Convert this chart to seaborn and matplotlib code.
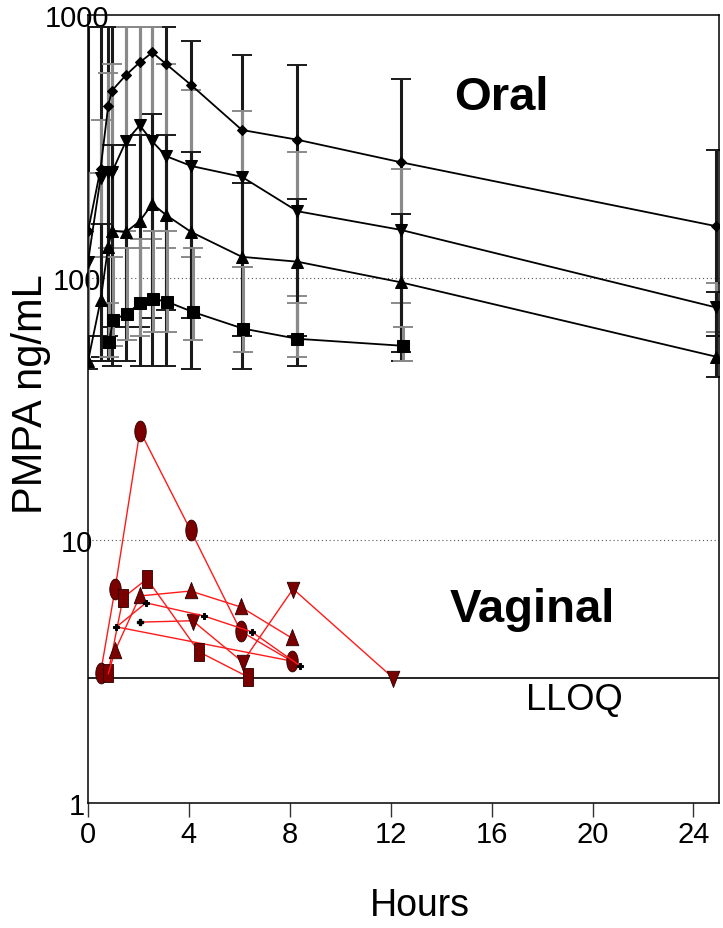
import numpy as np
import pandas as pd
import matplotlib
matplotlib.use("Agg")
import matplotlib.pyplot as plt
import seaborn as sns

# ---------------------------------------------------------------------------
# Data
# ---------------------------------------------------------------------------

# oral, mean +/- SD per dose group (bar ends given as absolute values)
oral_t = [0, 0.5, 0.8, 0.95, 1.5, 2.05, 2.55, 3.1, 4.1, 6.1, 8.3, 12.4, 24.9]

oral_dia_v = [150, 260, 450, 515, 590, 660, 720, 650, 540, 365, 335, 275, 157]
oral_dia_hi = [900, 900, 900, 900, 900, 900, 900, 900, 795, 704, 645, 570, 305]
oral_dia_lo = [48, 48, 48, 46, 48, 46, 46, 46, 45, 45, 46, 48, 60]

oral_inv_v = [115, 240, 252, 252, 330, 380, 330, 290, 266, 242, 179, 152, 77]
oral_inv_hi = [250, 400, 600, 650, 900, 900, 900, 650, 520, 430, 300, 260, 95]
oral_inv_lo = [60, 120, 130, 130, 150, 130, 140, 130, 120, 110, 85, 80, 62]

oral_tri_v = [48, 82, 131, 151, 149, 164, 191, 173, 149, 120, 115, 96, 50]
oral_tri_hi = [60, 160, 260, 320, 320, 350, 420, 350, 300, 230, 200, 175, 88]
oral_tri_lo = [45, 50, 60, 65, 65, 65, 70, 75, 70, 60, 60, 52, 42]

oral_sq_t = [0.83, 1.0, 1.55, 2.06, 2.57, 3.13, 4.16, 6.14, 8.3, 12.5]
oral_sq_v = [57, 69, 73, 80, 83, 81, 74, 64, 58.5, 55]
oral_sq_hi = [80, 120, 130, 140, 150, 150, 130, 110, 80, 65]
oral_sq_lo = [50, 55, 58, 60, 62, 62, 58, 52, 50, 48]

# vaginal, individual subjects
vag_circ_t = [0.5, 1.07, 2.06, 4.07, 6.06, 8.07]
vag_circ_v = [3.13, 6.5, 26.1, 10.9, 4.5, 3.47]

vag_sq_t = [0.8, 1.39, 2.34, 4.4, 6.34]
vag_sq_v = [3.13, 6.04, 7.13, 3.76, 3.02]

vag_tri_t = [0.8, 1.07, 2.06, 4.07, 6.06, 8.07]
vag_tri_v = [3.1, 3.79, 6.14, 6.41, 5.57, 4.25]

vag_inv_t = [2.06, 4.15, 6.13, 8.13, 12.1]
vag_inv_v = [4.88, 4.94, 3.44, 6.53, 2.99]

vag_plus_t = [1.13, 2.3, 4.6, 6.5, 8.4]
vag_plus_v = [4.68, 5.78, 5.15, 4.48, 3.33]

vag_plus2_t = [1.13, 8.07]
vag_plus2_v = [4.68, 3.47]

lloq = 3.0
x_ticks = [0, 4, 8, 12, 16, 20, 24]
y_ticks = [1, 10, 100, 1000]

# ---------------------------------------------------------------------------
# Style
# ---------------------------------------------------------------------------

sns.set_style("white")
plt.rcParams["font.family"] = ["Liberation Sans", "DejaVu Sans"]
plt.rcParams["text.color"] = "black"
plt.rcParams["axes.labelcolor"] = "black"
plt.rcParams["xtick.color"] = "black"
plt.rcParams["ytick.color"] = "black"

# vertically stretched marker shapes, like the source image
th = np.linspace(0, 2 * np.pi, 40)
ellipse = list(zip(0.55 * np.cos(th), np.sin(th)))
tall_sq = [(-0.6, -1), (0.6, -1), (0.6, 1), (-0.6, 1), (-0.6, -1)]
tall_up = [(-0.7, -0.8), (0.7, -0.8), (0, 1), (-0.7, -0.8)]
tall_dn = [(-0.7, 0.8), (0.7, 0.8), (0, -1), (-0.7, 0.8)]

RED = "#ff1a1a"
MAROON = "#7a0000"

fig = plt.figure(figsize=(7.23, 9.29), dpi=100)
ax = fig.add_axes([0.1217, 0.1346, 0.8723, 0.8482])
ax.set_yscale("log")

# ---------------------------------------------------------------------------
# Oral
# ---------------------------------------------------------------------------

def oral_series(t, v, lo, hi, marker, ms, bar_color):
    v = np.asarray(v, float)
    yerr = [v - np.asarray(lo, float), np.asarray(hi, float) - v]
    ax.errorbar(t, v, yerr=yerr, fmt="none", ecolor=bar_color, elinewidth=2.2,
                capsize=7, capthick=1.4, zorder=2)
    df = pd.DataFrame({"t": t, "v": v})
    sns.lineplot(data=df, x="t", y="v", ax=ax, sort=False, estimator=None,
                 color="black", linewidth=1.3, marker=marker, markersize=ms,
                 markeredgecolor="black", markerfacecolor="black", zorder=3)


oral_series(oral_t, oral_dia_v, oral_dia_lo, oral_dia_hi, "D", 5, "#1a1a1a")
oral_series(oral_t, oral_inv_v, oral_inv_lo, oral_inv_hi, "v", 8, "#8a8a8a")
oral_series(oral_t, oral_tri_v, oral_tri_lo, oral_tri_hi, "^", 8, "#1a1a1a")
oral_series(oral_sq_t, oral_sq_v, oral_sq_lo, oral_sq_hi, "s", 8, "#8a8a8a")

# ---------------------------------------------------------------------------
# Vaginal
# ---------------------------------------------------------------------------

def vag_series(t, v, marker, ms, every=None):
    df = pd.DataFrame({"t": t, "v": v})
    kw = {}
    if every is not None:
        kw["markevery"] = every
    sns.lineplot(data=df, x="t", y="v", ax=ax, sort=False, estimator=None,
                 color=RED, linewidth=1.0, marker=marker, markersize=ms,
                 markerfacecolor=MAROON, markeredgecolor="#2a0000",
                 markeredgewidth=0.6, zorder=4, **kw)


sns.lineplot(x=vag_plus2_t, y=vag_plus2_v, ax=ax, sort=False, estimator=None,
             color=RED, linewidth=1.0, zorder=4)
vag_series(vag_circ_t, vag_circ_v, ellipse, 15)
vag_series(vag_sq_t, vag_sq_v, tall_sq, 13)
vag_series(vag_tri_t, vag_tri_v, tall_up, 13, every=list(range(1, len(vag_tri_t))))
vag_series(vag_inv_t, vag_inv_v, tall_dn, 13, every=list(range(1, len(vag_inv_t))))
sns.lineplot(x=vag_plus_t, y=vag_plus_v, ax=ax, sort=False, estimator=None,
             color=RED, linewidth=1.0, marker="P", markersize=5,
             markerfacecolor="black", markeredgecolor="black", zorder=5)
ax.plot(vag_inv_t[:1], vag_inv_v[:1], "P", ms=5, color="black", zorder=5)

ax.axhline(lloq, color="black", linewidth=1.2, zorder=1)

# ---------------------------------------------------------------------------
# Axes
# ---------------------------------------------------------------------------

ax.set_xlim(0, 25)
ax.set_ylim(1, 1000)
ax.set_xticks(x_ticks)
ax.set_xticklabels([str(x) for x in x_ticks])
ax.set_yticks(y_ticks)
ax.set_yticklabels([str(y) for y in y_ticks], ha="center")
ax.minorticks_off()
ax.tick_params(axis="x", direction="out", length=10, width=1, pad=2, labelsize=21,
               bottom=True, color="#333333")
ax.tick_params(axis="y", length=0, pad=8, labelsize=21)
for s in ax.spines.values():
    s.set_color("black")
    s.set_linewidth(1.1)
ax.grid(False)
for g in [10, 100]:
    ax.axhline(g, color="#555555", linestyle=(0, (1, 2.5)), linewidth=0.8, zorder=0)

ax.set_xlabel("Hours", fontsize=27)
ax.xaxis.set_label_coords((420 - 88) / 630.7, -0.107)
ax.set_ylabel("PMPA ng/mL", fontsize=30)
ax.yaxis.set_label_coords(-0.058, 0.52)

ax.text(16.4, 438, "Oral", fontsize=34, fontweight="bold", ha="center", va="baseline")
ax.text(17.6, 4.93, "Vaginal", fontsize=34, fontweight="bold", ha="center", va="baseline")
ax.text(19.3, 2.28, "LLOQ", fontsize=26, ha="center", va="baseline")

fig.savefig("out.png", dpi=100)
